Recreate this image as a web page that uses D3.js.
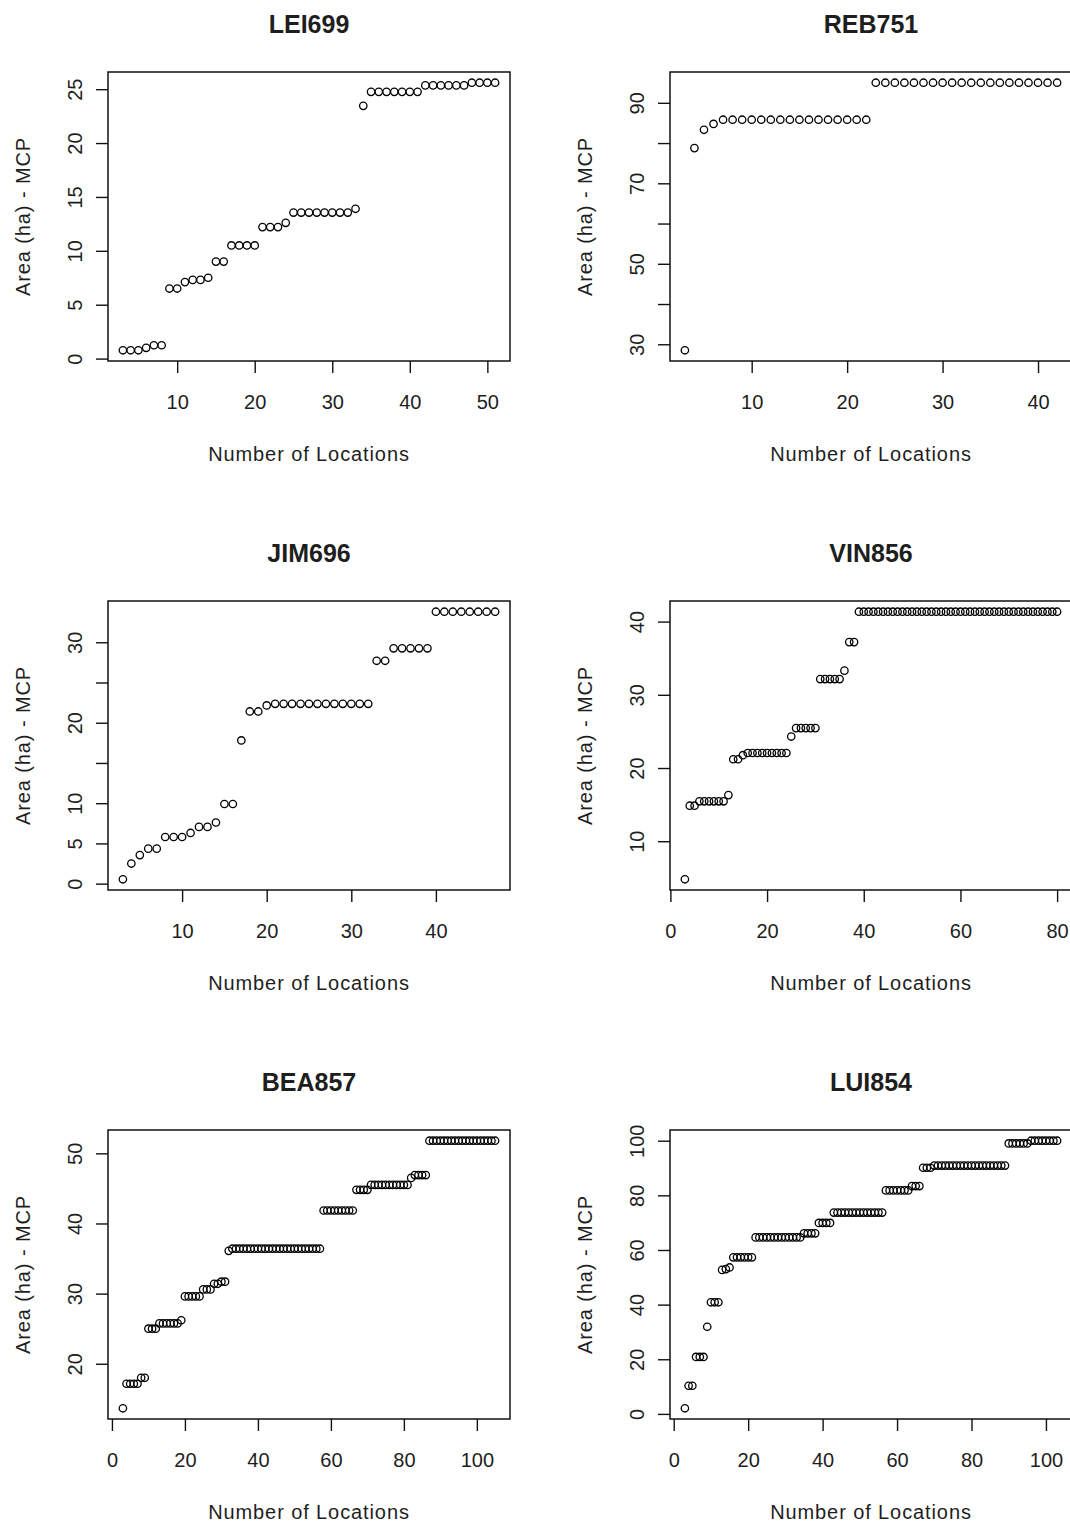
<!DOCTYPE html>
<meta charset='utf-8'>
<head>
<script src='https://d3js.org/d3.v7.min.js'></script>
<style>
  body{
    margin: 0;
    background: #fff;
  }
  svg text{
    font-family: 'Liberation Sans', Arial, sans-serif;
    fill: #1e1e1e;
  }
  .title{
    font-size: 25px;
    font-weight: bold;
  }
  .tick text{
    font-size: 20px;
  }
  .axis-title{
    font-size: 20px;
    letter-spacing: 0.9px;
  }
</style>
</head>
<body>
<div id="chart"></div>
<script>

  // every panel starts at 3 locations
  var firstLocation = 3;

  var panelNames = ['LEI699', 'REB751', 'JIM696', 'VIN856', 'BEA857', 'LUI854'];

  // MCP area (ha) for 3, 4, 5 ... locations
  var lei699 = [0.77, 0.77, 0.77, 1.0, 1.24, 1.24,
                6.5, 6.5, 7.1, 7.3, 7.3, 7.5,
                9.0, 9.0, 10.5, 10.5, 10.5, 10.5,
                12.2, 12.2, 12.2, 12.6,
                13.55, 13.55, 13.55, 13.55, 13.55, 13.55, 13.55, 13.55, 13.9,
                23.45,
                24.75, 24.75, 24.75, 24.75, 24.75, 24.75, 24.75,
                25.35, 25.35, 25.35, 25.35, 25.35, 25.35,
                25.6, 25.6, 25.6, 25.6];

  var reb751 = [28.5, 78.75, 83.3, 84.75,
                85.8, 85.8, 85.8, 85.8, 85.8, 85.8, 85.8, 85.8,
                85.8, 85.8, 85.8, 85.8, 85.8, 85.8, 85.8, 85.8,
                95, 95, 95, 95, 95, 95, 95, 95, 95, 95,
                95, 95, 95, 95, 95, 95, 95, 95, 95, 95];

  var jim696 = [0.54, 2.5, 3.55, 4.35, 4.35, 5.8, 5.8, 5.8, 6.3, 7.05, 7.05, 7.6, 9.9, 9.9,
                17.8, 21.4, 21.4, 22.15,
                22.35, 22.35, 22.35, 22.35, 22.35, 22.35, 22.35, 22.35, 22.35, 22.35, 22.35, 22.35,
                27.7, 27.7,
                29.25, 29.25, 29.25, 29.25, 29.25,
                33.8, 33.8, 33.8, 33.8, 33.8, 33.8, 33.8, 33.8];

  var vin856 = [4.8, 14.85, 14.85,
                15.45, 15.45, 15.45, 15.45, 15.45, 15.45, 16.3,
                21.2, 21.2, 21.75,
                22.05, 22.05, 22.05, 22.05, 22.05, 22.05, 22.05, 22.05, 22.05,
                24.3, 25.45, 25.45, 25.45, 25.45, 25.45,
                32.15, 32.15, 32.15, 32.15, 32.15, 33.3, 37.2, 37.2,
                41.35, 41.35, 41.35, 41.35, 41.35, 41.35, 41.35, 41.35, 41.35, 41.35,
                41.35, 41.35, 41.35, 41.35, 41.35, 41.35, 41.35, 41.35, 41.35, 41.35,
                41.35, 41.35, 41.35, 41.35, 41.35, 41.35, 41.35, 41.35, 41.35, 41.35,
                41.35, 41.35, 41.35, 41.35, 41.35, 41.35, 41.35, 41.35, 41.35, 41.35,
                41.35, 41.35];

  var bea857 = [13.65, 17.15, 17.15, 17.15, 17.15, 18.0, 18.0,
                25.0, 25.0, 25.0, 25.75, 25.75, 25.75, 25.75, 25.75, 25.75, 26.2,
                29.6, 29.6, 29.6, 29.6, 29.6, 30.6, 30.6, 30.6, 31.4, 31.4, 31.7, 31.7,
                36.1,
                36.4, 36.4, 36.4, 36.4, 36.4, 36.4, 36.4, 36.4, 36.4, 36.4,
                36.4, 36.4, 36.4, 36.4, 36.4, 36.4, 36.4, 36.4, 36.4, 36.4,
                36.4, 36.4, 36.4, 36.4, 36.4,
                41.85, 41.85, 41.85, 41.85, 41.85, 41.85, 41.85, 41.85, 41.85,
                44.8, 44.8, 44.8, 44.8,
                45.5, 45.5, 45.5, 45.5, 45.5, 45.5, 45.5, 45.5, 45.5, 45.5, 45.5,
                46.5, 46.9, 46.9, 46.9, 46.9,
                51.8, 51.8, 51.8, 51.8, 51.8, 51.8, 51.8, 51.8, 51.8, 51.8,
                51.8, 51.8, 51.8, 51.8, 51.8, 51.8, 51.8, 51.8, 51.8];

  var lui854 = [2.05, 10.3, 10.3, 20.85, 20.85, 20.85, 31.9,
                40.85, 40.85, 40.85, 52.7, 53.0, 53.6,
                57.3, 57.3, 57.3, 57.3, 57.3, 57.3,
                64.6, 64.6, 64.6, 64.6, 64.6, 64.6, 64.6, 64.6, 64.6, 64.6, 64.6, 64.6, 64.6,
                66.1, 66.1, 66.1, 66.1, 69.9, 69.9, 69.9, 69.9,
                73.7, 73.7, 73.7, 73.7, 73.7, 73.7, 73.7, 73.7, 73.7, 73.7, 73.7, 73.7, 73.7, 73.7,
                81.8, 81.8, 81.8, 81.8, 81.8, 81.8, 81.8, 83.4, 83.4, 83.4,
                90.1, 90.1, 90.1,
                90.9, 90.9, 90.9, 90.9, 90.9, 90.9, 90.9, 90.9, 90.9, 90.9,
                90.9, 90.9, 90.9, 90.9, 90.9, 90.9, 90.9, 90.9, 90.9, 90.9,
                99.0, 99.0, 99.0, 99.0, 99.0, 99.0,
                100, 100, 100, 100, 100, 100, 100, 100];

  var panelValues = [lei699, reb751, jim696, vin856, bea857, lui854];

  var xTickValues = [[10, 20, 30, 40, 50], [10, 20, 30, 40], [10, 20, 30, 40],
                     [0, 20, 40, 60, 80], [0, 20, 40, 60, 80, 100], [0, 20, 40, 60, 80, 100]];

  var yTickValues = [[0, 5, 10, 15, 20, 25], [30, 40, 50, 60, 70, 80, 90], [0, 5, 10, 15, 20, 25, 30],
                     [10, 20, 30, 40], [20, 30, 40, 50], [0, 20, 40, 60, 80, 100]];

  // labels R kept (the others were dropped for overlap)
  var yTickLabels = [[0, 5, 10, 15, 20, 25], [30, 50, 70, 90], [0, 5, 10, 20, 30],
                     [10, 20, 30, 40], [20, 30, 40, 50], [0, 20, 40, 60, 80, 100]];

  var xTitle = 'Number of Locations',
      yTitle = 'Area (ha) - MCP';

  var width = 1070, height = 1524;
  var colLeft = [108, 670],
      rowTop = [72, 601, 1130],
      boxW = 402,
      boxH = 289;

  var svg = d3.select('#chart').append('svg')
      .attr('width', width)
      .attr('height', height)
      .style('display', 'block');

  svg.append('rect').attr('width', width).attr('height', height).attr('fill', '#fff');

  // R style range: data extent plus 4% each side
  function pad(ext) {
    var d = (ext[1] - ext[0]) * 0.04;
    return [ext[0] - d, ext[1] + d];
  }

  panelValues.forEach(function(values, i) {
    var col = i % 2, row = Math.floor(i / 2);
    var g = svg.append('g')
        .attr('transform', 'translate(' + colLeft[col] + ',' + rowTop[row] + ')');

    var pts = values.map(function(v, j) { return {n: firstLocation + j, area: v}; });

    var x = d3.scaleLinear()
        .domain(pad(d3.extent(pts, function(d) { return d.n; })))
        .range([0, boxW]);
    var y = d3.scaleLinear()
        .domain(pad(d3.extent(pts, function(d) { return d.area; })))
        .range([boxH, 0]);

    // x axis
    var gx = g.append('g')
        .attr('transform', 'translate(0,' + boxH + ')')
        .call(d3.axisBottom(x).tickValues(xTickValues[i]).tickSize(12).tickSizeOuter(0));
    gx.select('.domain').remove();
    gx.selectAll('line').attr('stroke', '#111').attr('stroke-width', 1.4);
    gx.selectAll('text')
        .attr('y', 48).attr('dy', 0)
        .attr('fill', '#1e1e1e');

    // y axis, labels parallel to the axis
    var shown = yTickLabels[i];
    var gy = g.append('g')
        .call(d3.axisLeft(y).tickValues(yTickValues[i]).tickSize(12).tickSizeOuter(0));
    gy.select('.domain').remove();
    gy.selectAll('line').attr('stroke', '#111').attr('stroke-width', 1.4);
    gy.selectAll('text')
        .attr('x', 0).attr('y', 0).attr('dy', 0)
        .attr('text-anchor', 'middle')
        .attr('transform', 'translate(-26,0) rotate(-90)')
        .attr('fill', '#1e1e1e')
        .style('display', function(d) { return shown.indexOf(d) < 0 ? 'none' : null; });

    // points
    g.selectAll('circle')
        .data(pts)
        .enter().append('circle')
        .attr('cx', function(d) { return x(d.n); })
        .attr('cy', function(d) { return y(d.area); })
        .attr('r', 3.7)
        .attr('fill', 'none')
        .attr('stroke', '#000')
        .attr('stroke-width', 1.3);

    // plot box
    g.append('rect')
        .attr('width', boxW)
        .attr('height', boxH)
        .attr('fill', 'none')
        .attr('stroke', '#111')
        .attr('stroke-width', 1.5);

    g.append('text')
        .attr('class', 'title')
        .attr('x', boxW / 2)
        .attr('y', -39)
        .attr('text-anchor', 'middle')
        .text(panelNames[i]);

    g.append('text')
        .attr('class', 'axis-title')
        .attr('x', boxW / 2)
        .attr('y', boxH + 100)
        .attr('text-anchor', 'middle')
        .text(xTitle);

    g.append('text')
        .attr('class', 'axis-title')
        .attr('transform', 'translate(-78,' + (boxH / 2) + ') rotate(-90)')
        .attr('text-anchor', 'middle')
        .text(yTitle);
  });

</script>
</body>
</html>
